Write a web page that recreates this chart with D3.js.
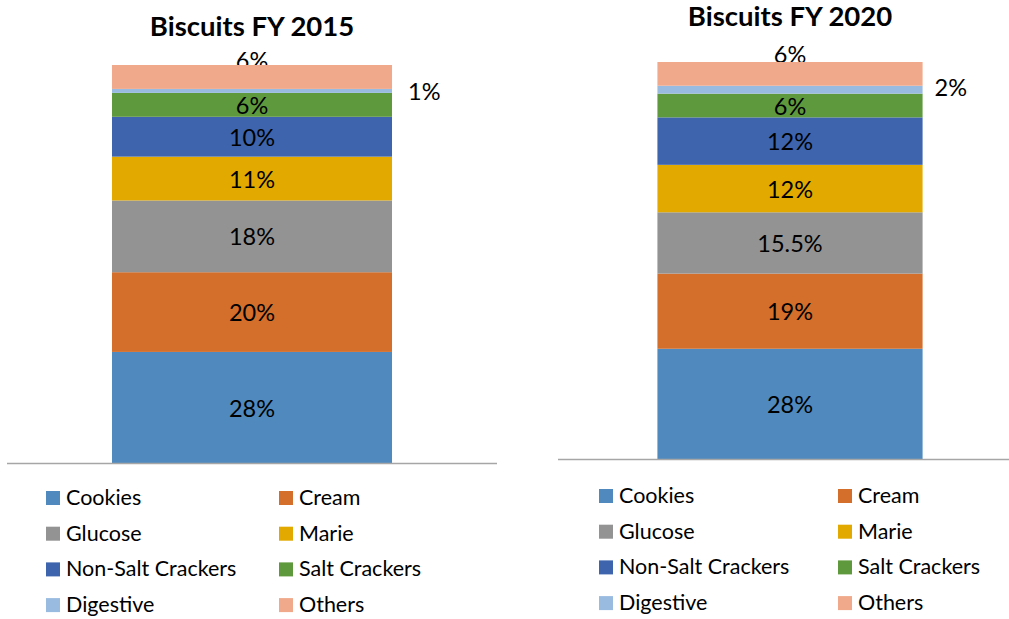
<!DOCTYPE html>
<head>
    <title>Biscuits segment share</title>
    <script src="https://d3js.org/d3.v7.min.js"></script>
    <style>
        body { margin: 0; background: #fff; }
        svg text { font-family: Lato, "Open Sans", sans-serif; fill: #000; }
    </style>
</head>
<body>
    <svg width="1009" height="619"></svg>
    <script>
        // data
        var categories = ["Cookies", "Cream", "Glucose", "Marie", "Non-Salt Crackers", "Salt Crackers", "Digestive", "Others"];
        var share2015 = [28, 20, 18, 11, 10, 6, 1, 6];
        var share2020 = [28, 19, 15.5, 12, 12, 6, 2, 6];
        var labels2015 = ["28%", "20%", "18%", "11%", "10%", "6%", "1%", "6%"];
        var labels2020 = ["28%", "19%", "15.5%", "12%", "12%", "6%", "2%", "6%"];
        var colors = ["#4f89bd", "#d46e2b", "#939393", "#e2aa00", "#3d64ad", "#5f993e", "#9abbe0", "#f0a98a"];

        var svg = d3.select("svg");

        var color = d3.scaleOrdinal()
            .domain(categories)
            .range(colors);

        // layout of the two panels
        var charts = [
            { title: "Biscuits FY 2015", values: share2015, labels: labels2015,
              x0: 7, x1: 497, base: 463.5, top: 65, titleY: 36, topDy: 4, outDx: 16, outDy: 9,
              legendX: [46, 279], legendY: 491 },
            { title: "Biscuits FY 2020", values: share2020, labels: labels2020,
              x0: 558, x1: 1022, base: 459.5, top: 62, titleY: 26, topDy: 1, outDx: 12, outDy: 6,
              legendX: [599, 838], legendY: 489 }
        ];

        charts.forEach(function(c) {
            var row = {};
            categories.forEach(function(k, i) { row[k] = c.values[i]; });
            var series = d3.stack().keys(categories)([row]);
            var total = d3.sum(c.values);

            var x = d3.scaleBand()
                .domain([c.title])
                .range([c.x0, c.x1])
                .padding(0.2727);

            var y = d3.scaleLinear()
                .domain([0, total])
                .range([c.base, c.top]);

            var g = svg.append("g");
            var cx = x(c.title) + x.bandwidth() / 2;

            // the top label sits under the bar (it is partly hidden in the original)
            var last = series[series.length - 1][0];
            g.append("text")
                .attr("x", cx)
                .attr("y", y(last[1]) + c.topDy)
                .attr("text-anchor", "middle")
                .attr("font-size", "23.5px")
                .text(c.labels[categories.length - 1]);

            g.selectAll("rect")
                .data(series)
                .enter().append("rect")
                .attr("x", x(c.title))
                .attr("width", x.bandwidth())
                .attr("y", function(d) { return y(d[0][1]); })
                .attr("height", function(d) { return y(d[0][0]) - y(d[0][1]); })
                .attr("fill", function(d) { return color(d.key); });

            g.append("line")
                .attr("x1", c.x0)
                .attr("x2", c.x1)
                .attr("y1", y(0))
                .attr("y2", y(0))
                .attr("stroke", "#a6a6a6")
                .attr("stroke-width", 1.5);

            g.selectAll(".seg")
                .data(series.slice(0, categories.length - 1))
                .enter().append("text")
                .attr("class", "seg")
                .attr("text-anchor", function(d) { return d.key == "Digestive" ? "start" : "middle"; })
                .attr("x", function(d) {
                    if (d.key == "Digestive") return x(c.title) + x.bandwidth() + c.outDx;
                    return cx;
                })
                .attr("y", function(d) {
                    var mid = (y(d[0][0]) + y(d[0][1])) / 2;
                    return mid + (d.key == "Digestive" ? c.outDy : 9);
                })
                .attr("font-size", "23.5px")
                .text(function(d) { return c.labels[d.index]; });

            g.append("text")
                .attr("x", cx)
                .attr("y", c.titleY)
                .attr("text-anchor", "middle")
                .attr("font-size", "27.5px")
                .attr("font-weight", "bold")
                .text(c.title);

            var legend = g.selectAll(".legend")
                .data(categories)
                .enter().append("g")
                .attr("class", "legend")
                .attr("transform", function(d, i) {
                    return "translate(" + c.legendX[i % 2] + "," + (c.legendY + Math.floor(i / 2) * 35.7) + ")";
                });

            legend.append("rect")
                .attr("width", 14)
                .attr("height", 14)
                .attr("fill", function(d) { return color(d); });

            legend.append("text")
                .attr("x", 20)
                .attr("y", 14)
                .attr("font-size", "21.5px")
                .text(function(d) { return d; });
        });
    </script>
</body>
